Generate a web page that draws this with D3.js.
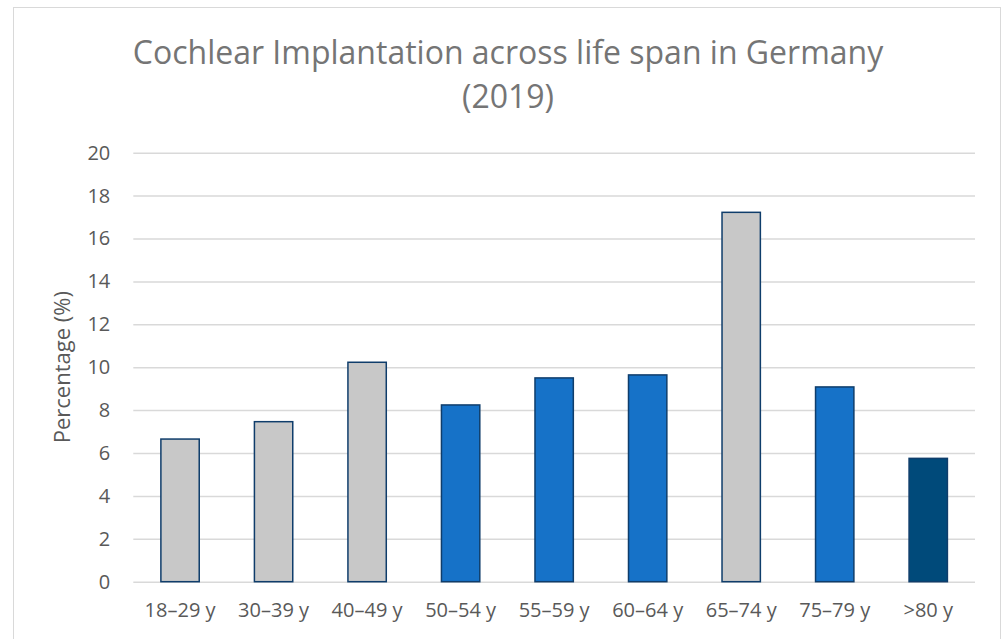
<!DOCTYPE html>
<html><head><meta charset="utf-8">
<script src="https://cdn.jsdelivr.net/npm/d3@7"></script>
<style>body{margin:0;background:#fff}svg{display:block}</style>
</head><body>
<svg id="c" width="1003" height="639"></svg>
<script>
const categories = ["18–29 y","30–39 y","40–49 y","50–54 y","55–59 y","60–64 y","65–74 y","75–79 y",">80 y"];
const values = [6.65, 7.46, 10.23, 8.24, 9.5, 9.64, 17.22, 9.08, 5.75];
const groups = ["grey","grey","grey","blue","blue","blue","grey","blue","dark"];
const yTicks = [0,2,4,6,8,10,12,14,16,18,20];
const titleLines = ["Cochlear Implantation across life span in Germany","(2019)"];
const yTitle = "Percentage (%)";

const colors = {grey:"#c8c8c8", blue:"#1672c8", dark:"#004a7a"};
const svg = d3.select("#c");
const font = "'Open Sans', sans-serif";
const m = {left:133.3, right:975, top:152.7, bottom:581.7};

svg.append("rect").attr("x",13.5).attr("y",7.5).attr("width",987).attr("height",640)
  .attr("fill","#fff").attr("stroke","#d9d9d9").attr("stroke-width",1);

const x = d3.scaleBand().domain(categories).range([m.left,m.right]).paddingInner(0.59).paddingOuter(0.295);
const y = d3.scaleLinear().domain([0,20]).range([m.bottom,m.top]);

const ya = svg.append("g").attr("transform",`translate(${m.left},0)`)
  .call(d3.axisLeft(y).tickValues(yTicks).tickSize(-(m.right-m.left)).tickPadding(23));
ya.select(".domain").remove();
ya.selectAll(".tick line").attr("stroke","#d9d9d9").attr("stroke-width",1.5);
ya.selectAll(".tick text").attr("fill","#595959").attr("font-family",font).attr("font-size",20);

svg.append("g").selectAll("rect").data(values).join("rect")
  .attr("x",(d,i)=>x(categories[i]))
  .attr("y",d=>y(d))
  .attr("width",x.bandwidth())
  .attr("height",d=>y(0)-y(d))
  .attr("fill",(d,i)=>colors[groups[i]])
  .attr("stroke","#0f3d6b").attr("stroke-width",1.5);

const xa = svg.append("g").attr("transform",`translate(0,${m.bottom})`)
  .call(d3.axisBottom(x).tickSize(0).tickPadding(21));
xa.select(".domain").remove();
xa.selectAll(".tick text").attr("fill","#595959").attr("font-family",font).attr("font-size",20);

svg.append("text").attr("transform",`translate(70,${(m.top+m.bottom)/2}) rotate(-90)`)
  .attr("text-anchor","middle").attr("fill","#595959").attr("font-family",font).attr("font-size",22)
  .text(yTitle);

svg.selectAll(".title").data(titleLines).join("text").attr("class","title")
  .attr("x",508).attr("y",(d,i)=>64+i*44).attr("text-anchor","middle")
  .attr("fill","#757575").attr("font-family",font).attr("font-size",32).text(d=>d);
</script>
</body></html>
